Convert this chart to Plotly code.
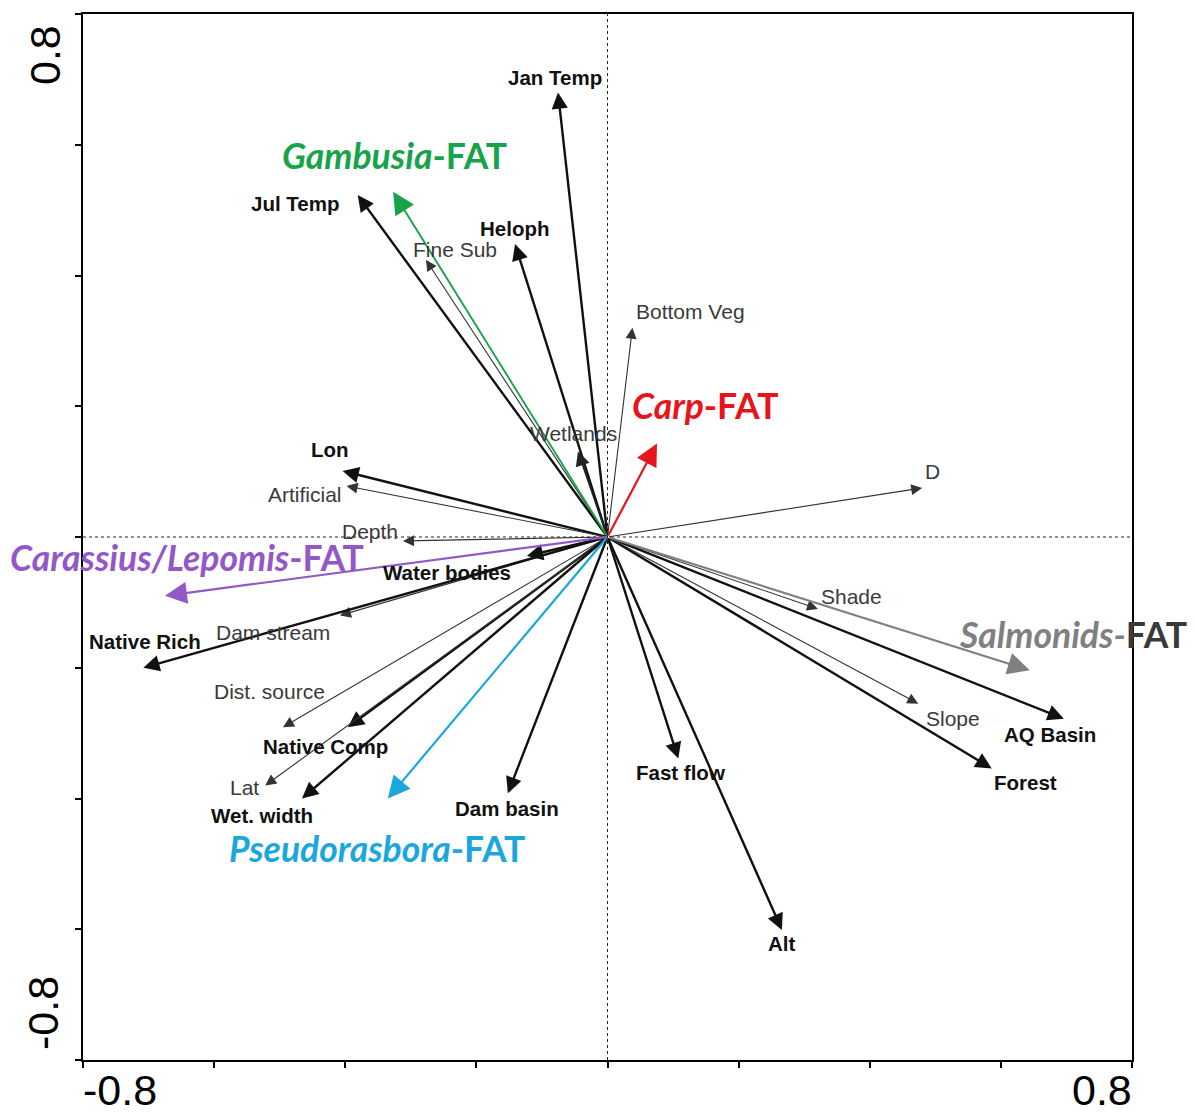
import plotly.graph_objects as go

# ---- data: arrow tips (loadings) ----
var_names = ["Jan Temp", "Jul Temp", "Fine Sub", "Heloph", "Bottom Veg", "Wetlands", "D",
             "Lon", "Artificial", "Depth", "Water bodies", "Dam stream", "Native Rich",
             "Dist. source", "Native Comp", "Lat", "Wet. width", "Dam basin", "Fast flow",
             "Alt", "Forest", "AQ Basin", "Slope", "Shade"]
var_x = [-0.0755, -0.381, -0.277, -0.141, 0.038, -0.045, 0.480,
         -0.404, -0.398, -0.312, -0.123, -0.408, -0.708,
         -0.495, -0.396, -0.522, -0.466, -0.152, 0.108,
         0.266, 0.586, 0.696, 0.474, 0.321]
var_y = [0.680, 0.523, 0.424, 0.448, 0.320, 0.131, 0.075,
         0.101, 0.078, -0.006, -0.029, -0.120, -0.200,
         -0.291, -0.291, -0.380, -0.400, -0.392, -0.339,
         -0.601, -0.354, -0.278, -0.255, -0.110]
var_bold = [True, True, False, True, False, False, False,
            True, False, False, True, False, True,
            False, True, False, True, True, True,
            True, True, True, False, False]

fat_names = ["Gambusia", "Carp", "Carassius/Lepomis", "Pseudorasbora", "Salmonids"]
fat_x = [-0.327, 0.0755, -0.675, -0.335, 0.644]
fat_y = [0.528, 0.143, -0.090, -0.400, -0.204]

# ---- label placement (pixel offsets from arrow tip) and styles ----
var_shift = [(-3, 15), (-63, -8), (29, 10), (-1, 16), (58, 16), (-5, 18), (10, 16),
             (-13, 21), (-42, -8), (-33, 9), (-80, -17), (-67, -17), (2, 26),
             (-13, 36), (-22, -19), (-21, -2), (-40, -17), (-1, -15), (2, -14),
             (0, -14), (34, -14), (-14, -16), (35, -15), (34, 12)]
fat_shift = [(1, 36), (48, 38), (22, 38), (-11, -50), (43, 36)]
fat_color = ["#17a34a", "#e8141b", "#9457c8", "#1aa7dc", "#808080"]
fat_suffix_color = ["#17a34a", "#e8141b", "#9457c8", "#1aa7dc", "#3a3a3a"]

fig = go.Figure()
fig.add_trace(go.Scatter(x=[0], y=[0], mode="markers", marker=dict(size=1, color="rgba(0,0,0,0)"),
                         showlegend=False, hoverinfo="skip"))

ann = []
# environmental variable arrows
for n, x, y, b in zip(var_names, var_x, var_y, var_bold):
    if b:
        w, s, col = 2.4, 1.35, "#111111"
    else:
        w, s, col = 1.1, 2.0, "#333333"
    if n == "Wetlands":
        w, s, col = 1.8, 1.6, "#222222"
    ann.append(dict(x=x, y=y, ax=0, ay=0, xref="x", yref="y", axref="x", ayref="y",
                    text="", showarrow=True, arrowhead=2, arrowsize=s, arrowwidth=w,
                    arrowcolor=col, standoff=0, startstandoff=0))
# FAT arrows
for n, x, y, c in zip(fat_names, fat_x, fat_y, fat_color):
    ann.append(dict(x=x, y=y, ax=0, ay=0, xref="x", yref="y", axref="x", ayref="y",
                    text="", showarrow=True, arrowhead=2, arrowsize=2.0 if n != "Gambusia" else 2.3,
                    arrowwidth=2.2 if n != "Gambusia" else 1.9,
                    arrowcolor=c, standoff=0))

# variable labels
for n, x, y, b, (dx, dy) in zip(var_names, var_x, var_y, var_bold, var_shift):
    ann.append(dict(x=x, y=y, xref="x", yref="y", text=("<b>%s</b>" % n) if b else n,
                    showarrow=False, xshift=dx, yshift=dy, xanchor="center", yanchor="middle",
                    font=dict(family="Liberation Sans, Arial", size=20.5 if b else 21,
                              color="#111111" if b else "#3a3a3a")))
# FAT labels
for n, x, y, c, c2, (dx, dy) in zip(fat_names, fat_x, fat_y, fat_color, fat_suffix_color, fat_shift):
    txt = "<i>%s</i><span style='color:%s'>-FAT</span>" % (n, c2)
    if n == "Salmonids":
        txt = "<i>%s-</i><span style='color:%s'>FAT</span>" % (n, c2)
    ann.append(dict(x=x, y=y, xref="x", yref="y", text="<b>" + txt + "</b>",
                    showarrow=False, xshift=dx, yshift=dy, xanchor="center", yanchor="middle",
                    font=dict(family="Lato, Open Sans", size=35.5, color=c)))

# axis end labels
tickfont = dict(family="Liberation Sans, Arial", size=43, color="#000000")
ann.append(dict(x=-0.8, y=0, xref="x", yref="paper", text="-0.8", showarrow=False,
                xanchor="left", yanchor="top", yshift=-4, xshift=-2, font=tickfont))
ann.append(dict(x=0.8, y=0, xref="x", yref="paper", text="0.8", showarrow=False,
                xanchor="right", yanchor="top", yshift=-4, xshift=2, font=tickfont))
ann.append(dict(x=0, y=0.8, xref="paper", yref="y", text="0.8", showarrow=False, textangle=-90,
                xanchor="right", yanchor="top", xshift=-12, yshift=-9, font=tickfont))
ann.append(dict(x=0, y=-0.8, xref="paper", yref="y", text="-0.8", showarrow=False, textangle=-90,
                xanchor="right", yanchor="bottom", xshift=-14, yshift=8, font=tickfont))

shapes = [
    dict(type="line", x0=0, x1=0, y0=-0.8, y1=0.8, xref="x", yref="y",
         line=dict(color="#222222", width=1, dash="dot"), layer="below"),
    dict(type="line", x0=-0.8, x1=0.8, y0=0, y1=0, xref="x", yref="y",
         line=dict(color="#222222", width=1, dash="dot"), layer="below"),
]

ticks = [-0.8, -0.6, -0.4, -0.2, 0, 0.2, 0.4, 0.6, 0.8]
axis_common = dict(range=[-0.8, 0.8], showgrid=False, zeroline=False, showline=True,
                   linecolor="#000000", linewidth=2, mirror=True, ticks="outside",
                   ticklen=6, tickwidth=1.5, tickcolor="#000000", tickvals=ticks,
                   ticktext=[""] * len(ticks), fixedrange=True)

fig.update_layout(
    width=1195, height=1119,
    margin=dict(l=83, r=63, t=12, b=59),
    paper_bgcolor="white", plot_bgcolor="white",
    xaxis=axis_common, yaxis=axis_common,
    annotations=ann, shapes=shapes, showlegend=False,
)

fig.write_html("out.html")
